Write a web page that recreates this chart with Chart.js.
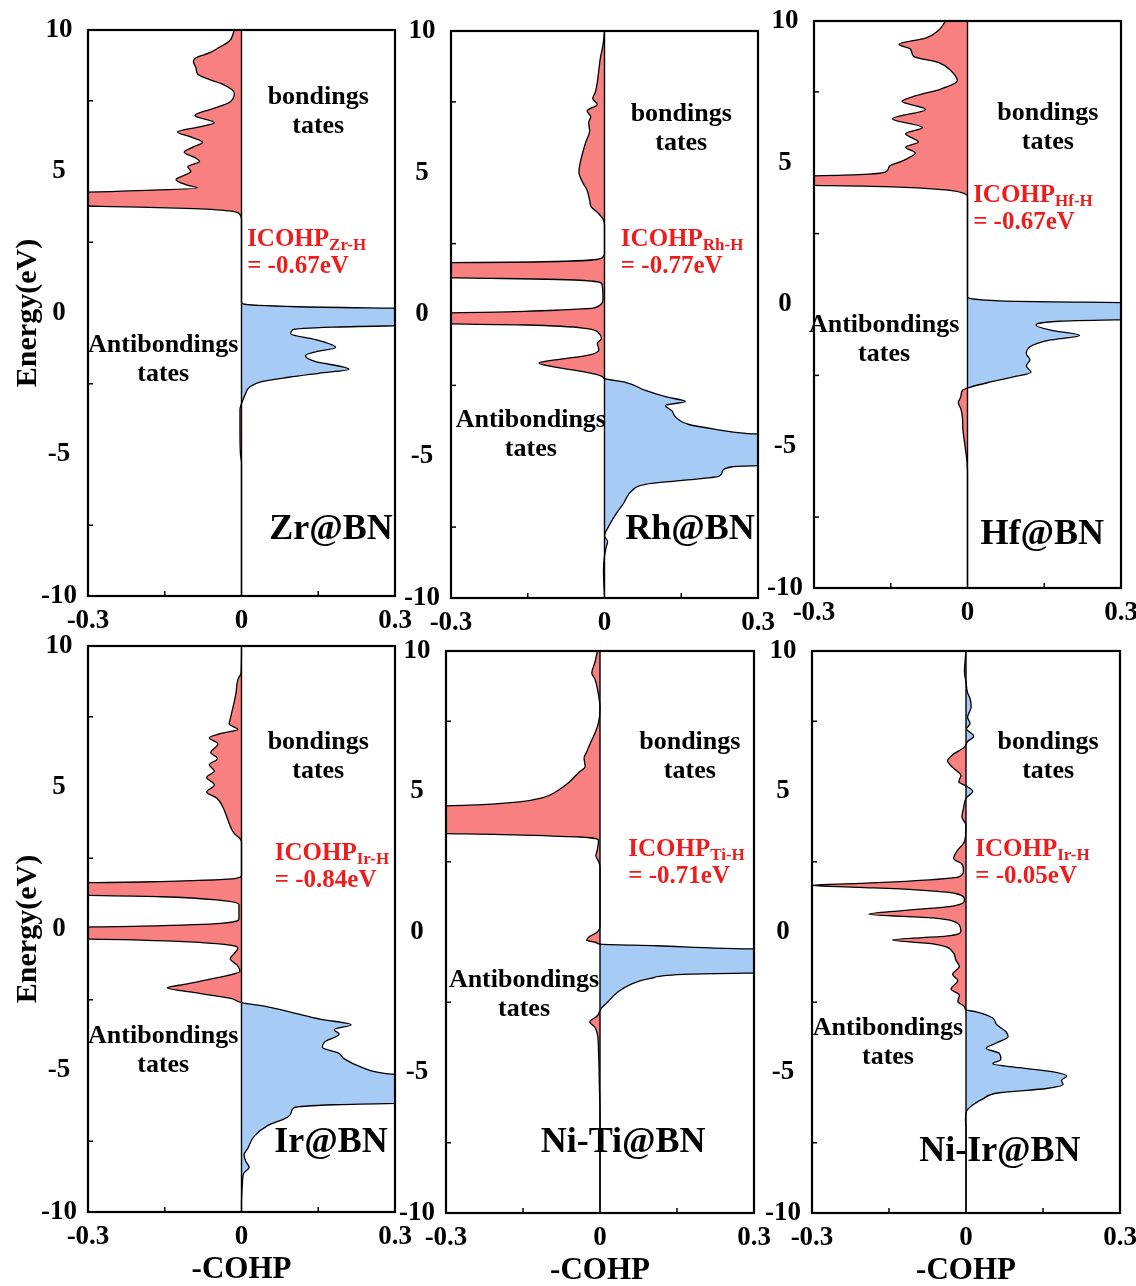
<!DOCTYPE html>
<html>
<head>
<meta charset="utf-8">
<title>COHP of M@BN</title>
<script src="https://cdn.jsdelivr.net/npm/chart.js@4.4.1/dist/chart.umd.min.js"></script>
<style>
  html, body { margin: 0; padding: 0; background: #fff; overflow: hidden; }
  #figure { position: relative; width: 1136px; height: 1286px; }
  #figure canvas { position: absolute; }
</style>
</head>
<body>
<div id="figure"></div>
<script>
// -COHP curves, energy (eV) from top of the window downwards
const zrEnergy = [10, 9.6, 9.38, 9.19, 9.02, 8.88, 8.66, 8.45, 8.27, 8.09, 7.76, 7.44, 7.22, 6.98, 6.72, 6.58, 6.4, 6.22, 6.03, 5.86, 5.68, 5.5, 5.35, 5.17, 5.0, 4.71, 4.53, 4.42, 4.3, 4.2, 3.84, 3.77, 3.7, 3.61, 3.48, 3.3, 0.4, 0.32, 0.22, 0.13, -0.4, -0.5, -0.59, -0.73, -0.94, -1.22, -1.37, -1.51, -1.7, -1.99, -2.13, -2.27, -2.42, -2.63, -2.85, -3.06, -3.2, -3.4, -4.2, -5.0, -5.3, -10];
const zrCohp = [-0.014, -0.024, -0.044, -0.063, -0.089, -0.094, -0.089, -0.086, -0.066, -0.037, -0.014, -0.024, -0.056, -0.091, -0.053, -0.082, -0.125, -0.099, -0.076, -0.095, -0.112, -0.092, -0.082, -0.105, -0.099, -0.128, -0.108, -0.086, -0.245, -0.4, -0.4, -0.277, -0.108, -0.024, -0.003, 0, 0, 0.003, 0.11, 0.4, 0.4, 0.177, 0.1, 0.096, 0.145, 0.184, 0.145, 0.125, 0.142, 0.21, 0.151, 0.093, 0.041, 0.015, 0.008, 0.003, 0, -0.003, -0.003, -0.002, 0, 0];

const rhEnergy = [10, 9.5, 9.06, 8.63, 8.2, 7.84, 7.62, 7.41, 7.19, 6.97, 6.76, 6.47, 6.11, 5.75, 5.39, 5.03, 4.67, 4.38, 4.02, 3.8, 3.59, 3.37, 3.16, 2.15, 1.97, 1.86, 1.8, 1.32, 1.27, 1.2, 1.08, 0.56, 0.24, 0.1, 0.01, -0.3, -0.37, -0.49, -0.66, -0.85, -1.02, -1.24, -1.43, -1.6, -1.71, -1.86, -2.03, -2.18, -2.26, -2.39, -2.68, -2.9, -3.07, -3.21, -3.4, -3.62, -3.88, -4.05, -4.19, -4.31, -5.27, -5.37, -5.56, -5.71, -5.85, -5.99, -6.21, -6.64, -7.08, -7.51, -7.8, -8.01, -8.23, -8.52, -9.0, -10];
const rhCohp = [0, -0.003, -0.008, -0.011, -0.014, -0.018, -0.023, -0.014, -0.034, -0.027, -0.031, -0.029, -0.036, -0.042, -0.047, -0.05, -0.043, -0.034, -0.029, -0.026, -0.013, -0.003, 0, 0, -0.008, -0.12, -0.4, -0.4, -0.2, -0.04, -0.005, -0.003, -0.018, -0.174, -0.4, -0.4, -0.154, -0.037, -0.011, -0.006, -0.014, -0.011, -0.031, -0.096, -0.128, -0.096, -0.037, -0.005, 0, 0.041, 0.08, 0.119, 0.158, 0.119, 0.132, 0.139, 0.165, 0.217, 0.276, 0.4, 0.4, 0.25, 0.23, 0.223, 0.152, 0.08, 0.054, 0.038, 0.021, 0.007, 0, 0.006, 0.003, 0, -0.002, 0];

const hfEnergy = [10, 9.68, 9.4, 9.18, 9.0, 8.75, 8.53, 8.22, 7.89, 7.6, 7.36, 7.17, 6.88, 6.55, 6.24, 6.02, 5.73, 5.55, 5.34, 5.06, 4.87, 4.68, 4.58, 4.48, 4.25, 4.15, 4.05, 3.94, 3.79, 0.27, 0.13, 0.03, -0.49, -0.59, -0.73, -0.92, -1.09, -1.26, -1.49, -1.74, -1.95, -2.17, -2.39, -2.56, -2.74, -2.93, -3.03, -3.25, -3.46, -3.68, -3.97, -4.4, -4.97, -5.55, -5.98, -10];
const hfCohp = [-0.043, -0.056, -0.082, -0.134, -0.111, -0.105, -0.056, -0.031, -0.02, -0.052, -0.102, -0.128, -0.082, -0.147, -0.088, -0.121, -0.096, -0.121, -0.102, -0.128, -0.153, -0.16, -0.213, -0.4, -0.4, -0.147, -0.049, -0.01, 0, 0, 0.062, 0.4, 0.4, 0.18, 0.134, 0.167, 0.219, 0.16, 0.122, 0.115, 0.122, 0.115, 0.124, 0.088, 0.043, 0.003, -0.01, -0.013, -0.018, -0.013, -0.01, -0.009, -0.005, -0.001, 0, 0];

const irEnergy = [10, 9.04, 8.82, 8.31, 7.57, 7.24, 7.05, 6.91, 6.76, 6.54, 6.24, 6.02, 5.8, 5.58, 5.36, 5.09, 4.84, 4.62, 4.33, 3.88, 3.59, 3.37, 3.19, 3.07, 1.9, 1.79, 1.67, 1.6, 1.23, 1.14, 1.01, 0.86, 0.35, 0.2, 0.1, 0.03, -0.32, -0.39, -0.54, -0.68, -0.86, -1.05, -1.27, -1.49, -1.72, -1.94, -2.08, -2.28, -2.45, -2.6, -2.75, -2.97, -3.19, -3.38, -3.56, -3.71, -4.0, -4.19, -4.37, -4.59, -4.88, -5.1, -5.28, -6.11, -6.21, -6.31, -6.5, -6.65, -6.95, -7.32, -7.76, -7.98, -8.2, -8.42, -8.64, -8.94, -9.67, -10];
const irCohp = [0, -0.001, -0.007, -0.011, -0.02, -0.024, -0.007, -0.04, -0.063, -0.046, -0.06, -0.047, -0.063, -0.053, -0.068, -0.053, -0.068, -0.048, -0.037, -0.027, -0.021, -0.014, -0.003, 0, 0, -0.011, -0.177, -0.4, -0.4, -0.158, -0.04, -0.005, -0.005, -0.04, -0.197, -0.4, -0.4, -0.197, -0.034, -0.007, -0.014, -0.022, -0.009, -0.003, -0.047, -0.106, -0.145, -0.08, -0.021, 0, 0.051, 0.103, 0.155, 0.214, 0.181, 0.191, 0.162, 0.158, 0.188, 0.201, 0.234, 0.279, 0.4, 0.4, 0.181, 0.103, 0.097, 0.09, 0.051, 0.025, 0.012, 0.005, 0.008, 0.015, 0.004, 0.002, 0, 0];

const niTiEnergy = [10, 9.59, 9.22, 9.0, 8.55, 7.96, 7.44, 7.07, 6.75, 6.41, 6.19, 5.89, 5.67, 5.3, 5.0, 4.78, 4.63, 4.53, 4.41, 3.56, 3.45, 3.38, 3.26, 2.94, 2.71, 2.52, 2.34, 0.2, 0.0, -0.17, -0.29, -0.38, -0.43, -0.49, -0.58, -0.64, -1.42, -1.5, -1.65, -1.87, -2.16, -2.53, -2.68, -2.8, -2.98, -3.2, -3.39, -3.64, -4.16, -5.64, -6.38, -10];
const niTiCohp = [-0.005, -0.01, -0.016, -0.01, -0.004, 0, -0.003, -0.01, -0.018, -0.026, -0.031, -0.029, -0.042, -0.062, -0.085, -0.111, -0.157, -0.229, -0.4, -0.4, -0.15, -0.039, -0.003, -0.005, -0.008, -0.003, 0, 0, -0.005, -0.021, -0.026, -0.007, 0, 0.111, 0.242, 0.4, 0.4, 0.176, 0.098, 0.059, 0.033, 0.013, 0.004, 0, -0.005, -0.02, -0.01, -0.005, -0.003, -0.001, 0, 0];

const niIrEnergy = [10, 9.26, 8.89, 8.52, 8.3, 8.01, 7.64, 7.42, 7.23, 6.97, 6.78, 6.58, 6.31, 6.09, 5.84, 5.57, 5.35, 5.2, 5.01, 4.76, 4.39, 4.1, 3.8, 3.21, 2.92, 2.62, 2.4, 2.18, 1.96, 1.81, 1.73, 1.66, 1.59, 1.5, 1.37, 1.14, 0.92, 0.76, 0.63, 0.5, 0.27, 0.04, -0.15, -0.28, -0.44, -0.7, -0.99, -1.22, -1.51, -1.73, -2.03, -2.25, -2.47, -2.66, -2.77, -2.84, -3.06, -3.28, -3.55, -3.73, -3.95, -4.14, -4.32, -4.54, -4.69, -4.83, -4.98, -5.13, -5.28, -5.42, -5.57, -5.72, -5.94, -6.16, -6.38, -6.67, -6.97, -10];
const niIrCohp = [0, -0.003, 0, 0.003, 0.008, 0.01, 0.003, 0.008, 0.001, 0.015, 0.003, -0.003, -0.026, -0.036, -0.025, -0.01, -0.014, 0, 0.013, 0, -0.005, -0.008, 0, -0.003, -0.016, -0.024, -0.007, -0.005, -0.014, -0.111, -0.209, -0.305, -0.209, -0.098, -0.02, -0.003, -0.026, -0.124, -0.189, -0.065, -0.014, -0.01, -0.039, -0.144, -0.059, -0.026, -0.02, -0.013, -0.026, -0.016, -0.029, -0.013, -0.016, -0.003, 0, 0.02, 0.052, 0.059, 0.078, 0.082, 0.059, 0.039, 0.065, 0.068, 0.052, 0.104, 0.17, 0.196, 0.186, 0.189, 0.157, 0.065, 0.033, 0.013, 0.001, -0.001, 0, 0];

// axis ticks and annotation text
const energyTicks = [-10, -5, 0, 5, 10];
const cohpTicks = [-0.3, 0, 0.3];
const energyMinor = [-7.5, -2.5, 2.5, 7.5];
const cohpMinor = [-0.15, 0.15];
const systems = ['Zr@BN', 'Rh@BN', 'Hf@BN', 'Ir@BN', 'Ni-Ti@BN', 'Ni-Ir@BN'];
const bondPairs = ['Zr-H', 'Rh-H', 'Hf-H', 'Ir-H', 'Ti-H', 'Ir-H'];
const icohpValues = [-0.67, -0.77, -0.67, -0.84, -0.71, -0.05];

const SERIF = '"Liberation Serif", "Times New Roman", serif';
const NEG_FILL = '#F88080';
const POS_FILL = '#A6CBF5';

// panel placement on the page (plot-area box) and where the labels sit, in data units
const panels = [
  { energy: zrEnergy, cohp: zrCohp, left: 88, top: 30, width: 307, height: 566, yTitle: true, xTitle: false,
    bond: [0.15, 7.63], anti: [-0.153, -1.13], icohp: [0.011, 2.58], name: [0.175, -7.67] },
  { energy: rhEnergy, cohp: rhCohp, left: 451, top: 31, width: 307, height: 567, yTitle: false, xTitle: false,
    bond: [0.15, 7.07], anti: [-0.144, -3.72], icohp: [0.032, 2.63], name: [0.167, -7.6] },
  { energy: hfEnergy, cohp: hfCohp, left: 814, top: 21, width: 307, height: 567, yTitle: false, xTitle: false,
    bond: [0.157, 6.75], anti: [-0.163, -0.72], icohp: [0.011, 3.83], name: [0.146, -8.13] },
  { energy: irEnergy, cohp: irCohp, left: 88, top: 646, width: 307, height: 566, yTitle: true, xTitle: true,
    bond: [0.15, 6.6], anti: [-0.153, -3.78], icohp: [0.065, 2.68], name: [0.175, -7.56] },
  { energy: niTiEnergy, cohp: niTiCohp, left: 446, top: 651, width: 308, height: 562, yTitle: false, xTitle: true,
    bond: [0.175, 6.76], anti: [-0.148, -1.71], icohp: [0.055, 2.92], name: [0.045, -7.5] },
  { energy: niIrEnergy, cohp: niIrCohp, left: 812, top: 651, width: 308, height: 562, yTitle: false, xTitle: true,
    bond: [0.16, 6.76], anti: [-0.152, -3.42], icohp: [0.018, 2.92], name: [0.066, -7.83] }
];

// red on the antibonding side of zero, blue on the bonding side
function splitFill(context) {
  const chart = context.chart;
  const area = chart.chartArea;
  if (!area || !chart.scales.x) return NEG_FILL;
  const zero = chart.scales.x.getPixelForValue(0);
  const f = (zero - area.left) / (area.right - area.left);
  const g = chart.ctx.createLinearGradient(area.left, 0, area.right, 0);
  g.addColorStop(0, NEG_FILL);
  g.addColorStop(f, NEG_FILL);
  g.addColorStop(f, POS_FILL);
  g.addColorStop(1, POS_FILL);
  return g;
}

// box frame, zero line and the small inward minor ticks
const axesFrame = {
  id: 'axesFrame',
  afterDatasetsDraw(chart) {
    const { ctx, chartArea: a, scales: { x, y } } = chart;
    ctx.save();
    ctx.strokeStyle = '#000';
    ctx.lineWidth = 1.4;
    const x0 = x.getPixelForValue(0);
    ctx.beginPath();
    ctx.moveTo(x0, a.top);
    ctx.lineTo(x0, a.bottom);
    ctx.stroke();

    ctx.lineWidth = 1.5;
    energyMinor.forEach(v => {
      const py = y.getPixelForValue(v);
      ctx.beginPath();
      ctx.moveTo(a.left, py);
      ctx.lineTo(a.left + 5, py);
      ctx.stroke();
    });
    cohpMinor.forEach(v => {
      const px = x.getPixelForValue(v);
      ctx.beginPath();
      ctx.moveTo(px, a.bottom);
      ctx.lineTo(px, a.bottom - 5);
      ctx.stroke();
    });

    ctx.lineWidth = 2.2;
    ctx.strokeRect(a.left, a.top, a.right - a.left, a.bottom - a.top);
    ctx.restore();
  }
};

// region labels, ICOHP value and system name
const panelText = {
  id: 'panelText',
  afterDraw(chart, args, opts) {
    const { ctx, scales: { x, y } } = chart;
    const at = p => [x.getPixelForValue(p[0]), y.getPixelForValue(p[1])];
    ctx.save();
    ctx.textBaseline = 'middle';
    ctx.fillStyle = '#000';
    ctx.textAlign = 'center';
    ctx.font = 'bold 26px ' + SERIF;

    const [bx, by] = at(opts.bond);
    ctx.fillText('bondings', bx, by);
    ctx.fillText('tates', bx, by + 29);

    const [ax, ay] = at(opts.anti);
    ctx.fillText('Antibondings', ax, ay);
    ctx.fillText('tates', ax, ay + 29);

    const [nx, ny] = at(opts.name);
    ctx.font = 'bold 36px ' + SERIF;
    ctx.fillText(opts.name_text, nx, ny);

    const [ix, iy] = at(opts.icohp);
    ctx.textAlign = 'left';
    ctx.fillStyle = '#EE1C1C';
    ctx.font = 'bold 25px ' + SERIF;
    ctx.fillText('ICOHP', ix, iy);
    const w = ctx.measureText('ICOHP').width;
    ctx.font = 'bold 17px ' + SERIF;
    ctx.fillText(opts.pair, ix + w, iy + 6);
    ctx.font = 'bold 25px ' + SERIF;
    ctx.fillText('= ' + opts.value.toFixed(2) + 'eV', ix, iy + 27);
    ctx.restore();
  }
};

const tickFont = { family: SERIF, weight: 'bold', size: 27 };
const figure = document.getElementById('figure');

panels.forEach((p, i) => {
  const canvas = document.createElement('canvas');
  canvas.width = 88 + p.width + 30;
  canvas.height = 30 + p.height + 80;
  canvas.style.left = (p.left - 88) + 'px';
  canvas.style.top = (p.top - 30) + 'px';
  figure.appendChild(canvas);

  const points = p.energy.map((e, k) => ({ x: p.cohp[k], y: e }));

  new Chart(canvas, {
    type: 'line',
    data: {
      datasets: [{
        data: points,
        borderColor: '#000',
        borderWidth: 1.3,
        pointRadius: 0,
        fill: 'origin',
        backgroundColor: splitFill,
        cubicInterpolationMode: 'monotone'
      }]
    },
    options: {
      responsive: false,
      animation: false,
      indexAxis: 'y',
      layout: { padding: { left: 8, top: 30, right: 30, bottom: 0 } },
      plugins: {
        legend: { display: false },
        tooltip: { enabled: false },
        panelText: {
          bond: p.bond, anti: p.anti, icohp: p.icohp, name: p.name,
          name_text: systems[i], pair: bondPairs[i], value: icohpValues[i]
        }
      },
      scales: {
        x: {
          type: 'linear',
          min: -0.3,
          max: 0.3,
          afterBuildTicks: s => { s.ticks = cohpTicks.map(v => ({ value: v })); },
          afterFit: s => { s.height = 80; s.paddingLeft = 0; s.paddingRight = 0; },
          grid: { display: false, drawTicks: false },
          border: { display: false },
          ticks: { font: tickFont, color: '#000', padding: 9, autoSkip: false, maxRotation: 0,
                   callback: v => String(v) },
          title: { display: p.xTitle, text: '-COHP', color: '#000',
                   font: { family: SERIF, weight: 'bold', size: 31 }, padding: { top: 0, bottom: 3 } }
        },
        y: {
          type: 'linear',
          min: -10,
          max: 10,
          afterBuildTicks: s => { s.ticks = energyTicks.map(v => ({ value: v })); },
          afterFit: s => { s.width = 80; s.paddingTop = 0; s.paddingBottom = 0; },
          grid: { display: false, drawTicks: false },
          border: { display: false },
          ticks: { font: tickFont, color: '#000', padding: 11, crossAlign: 'center',
                   callback: v => String(v) },
          title: { display: p.yTitle, text: 'Energy(eV)', color: '#000',
                   font: { family: SERIF, weight: 'bold', size: 30 }, padding: { top: 2, bottom: 0 } }
        }
      }
    },
    plugins: [axesFrame, panelText]
  });
});
</script>
</body>
</html>
